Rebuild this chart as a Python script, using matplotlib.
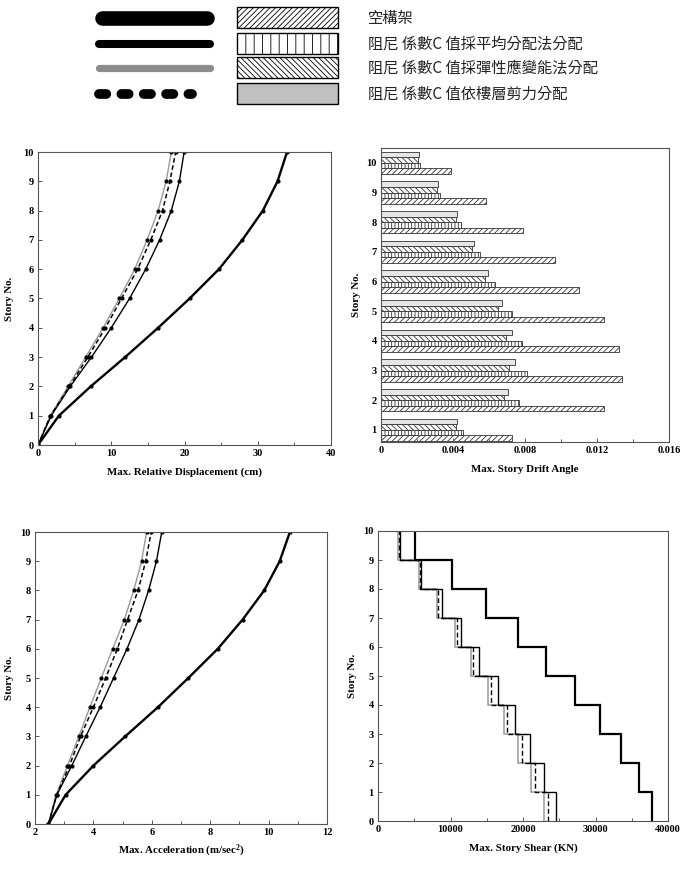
import numpy as np
import matplotlib
matplotlib.use("Agg")
import matplotlib.pyplot as plt
from matplotlib.lines import Line2D
from matplotlib.patches import Rectangle

plt.rcParams['hatch.linewidth'] = 0.6
plt.rcParams['mathtext.fontset'] = 'custom'
plt.rcParams['mathtext.rm'] = 'Liberation Serif:bold'
plt.rcParams['mathtext.bf'] = 'Liberation Serif:bold'
plt.rcParams['mathtext.it'] = 'Liberation Serif:bold'

# ---------------- data ----------------
stories = np.arange(0, 11)
story_levels = np.arange(1, 11)

legend_labels = ["空構架",
                 "阻尼 係數C 值採平均分配法分配",
                 "阻尼 係數C 值採彈性應變能法分配",
                 "阻尼 係數C 值依樓層剪力分配"]

disp_bare = [0, 2.85, 7.2, 11.9, 16.4, 20.7, 24.7, 27.9, 30.7, 32.7, 34.0]
disp_uniform = [0, 1.8, 4.4, 7.3, 10.0, 12.5, 14.7, 16.6, 18.2, 19.3, 19.95]
disp_shear = [0, 1.7, 4.3, 6.8, 9.2, 11.4, 13.6, 15.4, 17.0, 18.0, 18.8]
disp_energy = [0, 1.7, 4.1, 6.5, 8.9, 11.1, 13.2, 14.9, 16.4, 17.5, 18.2]

drift_bare = [0.00726, 0.01239, 0.01341, 0.0132, 0.01241, 0.01102, 0.00965, 0.00791, 0.00581, 0.00391]
drift_uniform = [0.00457, 0.00767, 0.00811, 0.00785, 0.00726, 0.00633, 0.00548, 0.00443, 0.00326, 0.00219]
drift_energy = [0.00415, 0.00683, 0.00713, 0.00693, 0.00648, 0.00576, 0.00507, 0.00415, 0.00309, 0.00207]
drift_shear = [0.00424, 0.00707, 0.00746, 0.00726, 0.00674, 0.00596, 0.00519, 0.00424, 0.00315, 0.00213]

accel_bare = [2.46, 3.05, 4.0, 5.09, 6.21, 7.25, 8.26, 9.11, 9.85, 10.38, 10.73]
accel_uniform = [2.46, 2.75, 3.26, 3.74, 4.23, 4.69, 5.15, 5.56, 5.89, 6.16, 6.34]
accel_shear = [2.46, 2.74, 3.18, 3.56, 4.0, 4.42, 4.82, 5.17, 5.53, 5.79, 5.98]
accel_energy = [2.46, 2.73, 3.11, 3.5, 3.88, 4.27, 4.66, 5.06, 5.38, 5.65, 5.82]

shear_bare = [37788, 35991, 33548, 30645, 27143, 23180, 19263, 14930, 10138, 5161]
shear_uniform = [24608, 22903, 21014, 18894, 16544, 13917, 11429, 8848, 5991, 2995]
shear_shear = [23410, 21705, 19908, 17788, 15530, 13134, 10829, 8341, 5760, 2903]
shear_energy = [22903, 21152, 19355, 17327, 15115, 12765, 10553, 8157, 5622, 2811]

# ---------------- styles ----------------
SERIF = "Liberation Serif"
tick_fs = 7.5
label_fs = 7.8
GRAY = "#9a9a9a"

sty_bare = dict(color="black", lw=1.7)
sty_uniform = dict(color="black", lw=1.0)
sty_energy = dict(color=GRAY, lw=1.0)
sty_shear = dict(color="black", lw=1.1, linestyle=(0, (3, 1.8)))

fig = plt.figure(figsize=(6.81, 8.72), dpi=100)
W, H = 681, 872


def add_ax(l, t, r, b):
    return fig.add_axes([l / W, 1 - b / H, (r - l) / W, (b - t) / H])


def style_ax(ax):
    for s in ax.spines.values():
        s.set_color("#555555")
        s.set_linewidth(0.8)
    ax.tick_params(which="both", direction="in", top=False, right=False,
                   labelsize=tick_fs, pad=3, color="#555555")
    ax.tick_params(which="major", length=3, width=0.7)
    ax.tick_params(which="minor", length=2.5, width=0.7)
    for lab in ax.get_xticklabels() + ax.get_yticklabels():
        lab.set_fontfamily(SERIF)
        lab.set_fontweight("bold")


def set_labels(ax, xl, yl, ylpad=8, xlpad=7):
    ax.set_xlabel(xl, fontfamily=SERIF, fontweight="bold", fontsize=label_fs, labelpad=xlpad)
    ax.set_ylabel(yl, fontfamily=SERIF, fontweight="bold", fontsize=label_fs, labelpad=ylpad)


mk = dict(marker="o", ms=2.0, mfc="black", mec="black")

# ---------------- top-left: displacement ----------------
ax1 = add_ax(38, 152, 331, 445)
ax1.plot(disp_energy, stories, **sty_energy, **mk)
ax1.plot(disp_shear, stories, **sty_shear, **mk)
ax1.plot(disp_uniform, stories, **sty_uniform, **mk)
ax1.plot(disp_bare, stories, **sty_bare, **mk)
ax1.set_xlim(0, 40)
ax1.set_ylim(0, 10)
ax1.set_xticks([0, 10, 20, 30, 40])
ax1.set_xticks(np.arange(0, 41, 5), minor=True)
ax1.set_yticks(range(0, 11))
style_ax(ax1)
set_labels(ax1, "Max. Relative Displacement (cm)", "Story No.", ylpad=7)

# ---------------- top-right: drift angle ----------------
ax2 = add_ax(381, 148, 669, 442)
h = 0.19
series = [(drift_bare, "//////", "white"),
          (drift_uniform, "|||||", "white"),
          (drift_energy, "\\\\\\\\\\\\", "white"),
          (drift_shear, None, "#e6e6e6")]
for i, (vals, hatch, fc) in enumerate(series):
    ax2.barh(story_levels + (i - 1.5) * h, vals, height=h, color=fc,
             edgecolor="#333333", linewidth=0.6, hatch=hatch)
ax2.set_xlim(0, 0.016)
ax2.set_ylim(0.59, 10.5)
ax2.set_xticks([0, 0.004, 0.008, 0.012, 0.016])
ax2.set_xticklabels(["0", "0.004", "0.008", "0.012", "0.016"])
ax2.set_xticks(np.arange(0, 0.0161, 0.002), minor=True)
ax2.set_yticks(story_levels)
style_ax(ax2)
ax2.tick_params(axis="y", length=0)
set_labels(ax2, "Max. Story Drift Angle", "Story No.", ylpad=4)

# ---------------- bottom-left: acceleration ----------------
ax3 = add_ax(35, 532, 327, 824)
ax3.plot(accel_energy, stories, **sty_energy, **mk)
ax3.plot(accel_shear, stories, **sty_shear, **mk)
ax3.plot(accel_uniform, stories, **sty_uniform, **mk)
ax3.plot(accel_bare, stories, **sty_bare, **mk)
ax3.set_xlim(2, 12)
ax3.set_ylim(0, 10)
ax3.set_xticks([2, 4, 6, 8, 10, 12])
ax3.set_xticks(np.arange(2, 12.1, 1), minor=True)
ax3.set_yticks(range(0, 11))
style_ax(ax3)
set_labels(ax3, r"Max. Acceleration (m/sec$^{2}$)", "Story No.", ylpad=5, xlpad=4)

# ---------------- bottom-right: story shear ----------------
ax4 = add_ax(378, 531, 668, 821)
ax4.stairs(shear_energy, stories, orientation="horizontal", baseline=None, color=GRAY, lw=1.1)
ax4.stairs(shear_shear, stories, orientation="horizontal", baseline=None, color="black",
           lw=1.0, linestyle=(0, (3.5, 2)))
ax4.stairs(shear_uniform, stories, orientation="horizontal", baseline=None, color="black", lw=1.0)
ax4.stairs(shear_bare, stories, orientation="horizontal", baseline=None, color="black", lw=1.6)
ax4.set_xlim(0, 40000)
ax4.set_ylim(0, 10)
ax4.set_xticks([0, 10000, 20000, 30000, 40000])
ax4.set_xticks(np.arange(0, 40001, 5000), minor=True)
ax4.set_yticks(range(0, 11))
style_ax(ax4)
set_labels(ax4, "Max. Story Shear (KN)", "Story No.", ylpad=5)

# ---------------- legend (drawn in pixel space) ----------------
axl = fig.add_axes([0, 0, 1, 1], zorder=-1)
axl.set_xlim(0, W)
axl.set_ylim(H, 0)
axl.axis("off")
rows_y = [18, 44, 68, 94]
axl.add_line(Line2D([102, 207], [rows_y[0]] * 2, color="black", lw=10.5, solid_capstyle="round"))
axl.add_line(Line2D([99, 210], [rows_y[1]] * 2, color="black", lw=5.8, solid_capstyle="round"))
axl.add_line(Line2D([99, 210], [rows_y[2]] * 2, color="#8c8c8c", lw=5.2, solid_capstyle="round"))
axl.add_line(Line2D([99, 192], [rows_y[3]] * 2, color="black", lw=7,
                    dash_capstyle="round", dashes=(0.75, 1.55)))
box_hatches = [("//////", "white"), ("||", "white"), ("\\\\\\\\\\\\", "white"), (None, "#c0c0c0")]
for yy, (hatch, fc) in zip(rows_y, box_hatches):
    axl.add_patch(Rectangle((237, yy - 10.5), 101, 21, facecolor=fc, edgecolor="black",
                            lw=1.0, hatch=hatch))
for yy, txt in zip(rows_y, legend_labels):
    axl.text(368, yy, txt, fontsize=11, va="center", ha="left",
             family=["Noto Sans CJK TC", "DejaVu Sans"], color="#222222")

fig.savefig("out.png", dpi=100)
